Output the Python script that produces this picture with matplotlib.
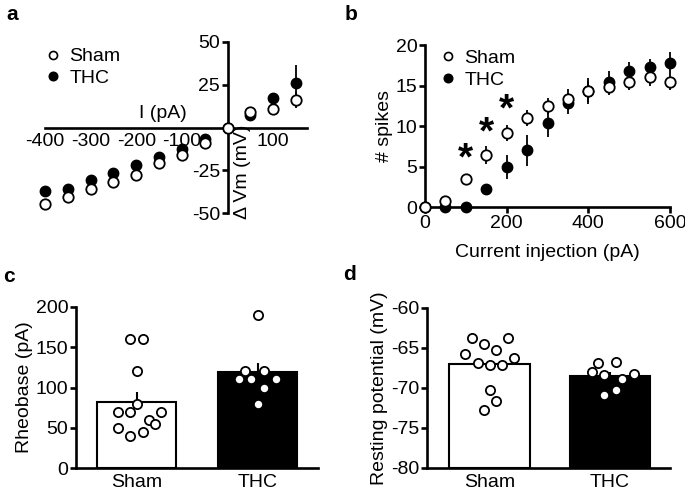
import matplotlib
matplotlib.use("Agg")
import matplotlib.pyplot as plt
from matplotlib.lines import Line2D
import numpy as np

plt.rcParams['font.family'] = ['Liberation Sans', 'DejaVu Sans']
plt.rcParams['font.size'] = 14
plt.rcParams['axes.unicode_minus'] = False

# ---- Panel a: I-V data ----
iv_current = [-400, -350, -300, -250, -200, -150, -100, -50, 0, 50, 100, 150]
iv_sham = [-44.3, -40.4, -36.0, -32.0, -27.6, -20.9, -16.1, -9.0, 0.0, 9.2, 10.5, 15.9]
iv_sham_err = [1.5, 1.5, 1.5, 1.5, 1.5, 1.5, 1.5, 1.0, 0.0, 1.5, 2.0, 4.7]
iv_thc = [-37.2, -35.6, -30.7, -26.4, -21.8, -17.4, -12.5, -6.7, 0.0, 7.3, 17.4, 26.0]
iv_thc_err = [1.5, 2.5, 1.5, 1.5, 1.5, 1.5, 1.5, 1.0, 0.0, 1.5, 2.0, 10.6]
iv_xticks = [-400, -300, -200, -100, 100]
iv_yticks = [-50, -25, 25, 50]

# ---- Panel b: spikes ----
inj = [0, 50, 100, 150, 200, 250, 300, 350, 400, 450, 500, 550, 600]
spk_sham = [0.0, 0.8, 3.5, 6.4, 9.2, 11.0, 12.5, 13.3, 14.3, 14.8, 15.5, 16.0, 15.5]
spk_sham_err = [0.0, 0.3, 0.6, 1.1, 1.0, 1.0, 1.0, 1.3, 1.6, 1.0, 1.0, 1.0, 1.1]
spk_thc = [0.0, 0.0, 0.0, 2.2, 5.0, 7.0, 10.4, 12.8, 14.3, 15.5, 16.8, 17.3, 17.8]
spk_thc_err = [0.0, 0.0, 0.0, 0.5, 1.5, 1.9, 1.7, 1.3, 1.3, 1.3, 1.1, 1.0, 1.3]
star_x = [100, 150, 200]
star_y = [5.9, 9.1, 11.9]

# ---- Panel c: rheobase ----
groups = ['Sham', 'THC']
rheo_mean = [81.8, 119.0]
rheo_sem = [13.2, 11.0]
rheo_sham = [160, 160, 120, 80, 70, 70, 70, 60, 55, 50, 45, 40]
rheo_sham_jit = [-0.05, 0.05, 0.0, 0.0, -0.15, -0.05, 0.2, 0.1, 0.15, -0.15, 0.05, -0.05]
rheo_thc = [190, 120, 120, 110, 110, 110, 100, 80]
rheo_thc_jit = [0.0, -0.1, 0.05, -0.15, -0.05, 0.15, 0.05, 0.0]

# ---- Panel d: resting potential ----
rmp_mean = [-67.05, -68.5]
rmp_sem = [0.6, 0.5]
rmp_sham = [-63.7, -63.7, -64.5, -65.25, -65.7, -66.3, -66.9, -67.1, -67.1, -70.3, -71.6, -72.7]
rmp_sham_jit = [-0.15, 0.15, -0.05, 0.05, -0.2, 0.2, -0.1, 0.0, 0.1, 0.0, 0.05, -0.05]
rmp_thc = [-66.9, -66.7, -67.95, -68.4, -68.2, -68.9, -70.25, -70.9]
rmp_thc_jit = [-0.1, 0.05, -0.15, -0.05, 0.2, 0.1, 0.05, -0.05]

W, H = 685, 492
fig = plt.figure(figsize=(W / 100, H / 100), dpi=100)

def box(l, r, t, b):
    return [l / W, 1 - b / H, (r - l) / W, (b - t) / H]

FS = 14
SPW = 1.9
MS = 7.5
def style(ax):
    for s in ['top', 'right']:
        ax.spines[s].set_visible(False)
    for s in ['left', 'bottom']:
        ax.spines[s].set_linewidth(SPW)
    ax.tick_params(width=SPW, length=4, labelsize=FS, pad=1.5)

def leg_handles():
    hs = Line2D([], [], ls='none', marker='o', mfc='white', mec='black', mew=1.2, ms=5.8)
    ht = Line2D([], [], ls='none', marker='o', mfc='black', mec='black', ms=6.2)
    return [hs, ht], ['Sham', 'THC']

# ---------- a ----------
axa = fig.add_axes(box(45, 307, 41.7, 213.3))
style(axa)
axa.set_xlim(-400, 174)
axa.set_ylim(-50, 50)
axa.spines['left'].set_position(('data', 0))
axa.spines['bottom'].set_position(('data', 0))
axa.set_xticks(iv_xticks)
axa.set_xticklabels([str(v) for v in iv_xticks])
axa.set_yticks(iv_yticks)
axa.set_yticklabels([str(v) for v in iv_yticks])
axa.tick_params(axis='x', length=0, pad=4)
axa.errorbar(iv_current, iv_thc, yerr=iv_thc_err, fmt='o', color='black', mfc='black',
             mec='black', ms=MS, elinewidth=1.3, capsize=0, clip_on=False, zorder=3)
axa.errorbar(iv_current, iv_sham, yerr=iv_sham_err, fmt='o', color='black', mfc='white',
             mec='black', mew=1.3, ms=MS, elinewidth=1.3, capsize=0, clip_on=False, zorder=4)
hh, ll = leg_handles()
axa.legend(hh, ll, loc='upper left', bbox_to_anchor=(-0.03, 1.01),
           frameon=False, handletextpad=0.45, borderaxespad=0, labelspacing=0.2,
           handlelength=0.8, fontsize=FS)
fig.text(163 / W, 1 - 113 / H, 'I (pA)', ha='center', va='center', fontsize=FS)
fig.text(243 / W, 1 - 172 / H, '\u0394 Vm (mV)', ha='center', va='center', rotation=90, fontsize=FS)
fig.text(6 / W, 1 - 14 / H, 'a', ha='left', va='center', fontsize=15, fontweight='bold')

# ---------- b ----------
axb = fig.add_axes(box(425, 670, 45, 207.3))
style(axb)
axb.set_xlim(0, 600)
axb.set_ylim(0, 20)
axb.set_xticks([0, 200, 400, 600])
axb.set_yticks([0, 5, 10, 15, 20])
axb.errorbar(inj, spk_thc, yerr=spk_thc_err, fmt='o', color='black', mfc='black',
             mec='black', ms=MS, elinewidth=1.3, capsize=0, clip_on=False, zorder=3)
axb.errorbar(inj, spk_sham, yerr=spk_sham_err, fmt='o', color='black', mfc='white',
             mec='black', mew=1.3, ms=MS, elinewidth=1.3, capsize=0, clip_on=False, zorder=4)
for sx, sy in zip(star_x, star_y):
    axb.text(sx, sy, '*', ha='center', va='center', fontsize=28, fontweight='bold')
hh, ll = leg_handles()
axb.legend(hh, ll, loc='upper left', bbox_to_anchor=(0.03, 1.02),
           frameon=False, handletextpad=0.45, borderaxespad=0, labelspacing=0.2,
           handlelength=0.8, fontsize=FS)
axb.set_ylabel('# spikes', labelpad=2)
axb.set_xlabel('Current injection (pA)', labelpad=9)
fig.text(345 / W, 1 - 14 / H, 'b', ha='left', va='center', fontsize=15, fontweight='bold')

# ---------- c ----------
axc = fig.add_axes(box(76, 318, 306.7, 468.3))
style(axc)
axc.set_xlim(-0.5, 1.5)
axc.set_ylim(0, 200)
axc.set_yticks([0, 50, 100, 150, 200])
xpos = np.arange(len(groups))
axc.bar(xpos, rheo_mean, width=0.66, color=['white', 'black'], edgecolor='black', linewidth=1.5, zorder=2)
axc.errorbar(xpos, rheo_mean, yerr=[[0, 0], rheo_sem], fmt='none', ecolor='black', elinewidth=1.5,
             capsize=0, zorder=3)
axc.scatter(np.array(rheo_sham_jit) + 0, rheo_sham, s=44, facecolor='white', edgecolor='black',
            linewidth=1.3, zorder=4, clip_on=False)
axc.scatter(np.array(rheo_thc_jit) + 1, rheo_thc, s=44, facecolor='white', edgecolor='black',
            linewidth=1.3, zorder=4, clip_on=False)
axc.set_xticks(xpos)
axc.set_xticklabels(groups)
axc.tick_params(axis='x', length=0, pad=4)
axc.set_ylabel('Rheobase (pA)', labelpad=2)
fig.text(3 / W, 1 - 276 / H, 'c', ha='left', va='center', fontsize=15, fontweight='bold')

# ---------- d ----------
axd = fig.add_axes(box(427, 670, 308, 468))
style(axd)
axd.set_xlim(-0.52, 1.5)
axd.set_ylim(-80, -60)
axd.set_yticks([-80, -75, -70, -65, -60])
axd.bar(xpos, [m - (-80) for m in rmp_mean], bottom=-80, width=0.67, color=['white', 'black'],
        edgecolor='black', linewidth=1.5, zorder=2)
axd.errorbar(xpos, rmp_mean, yerr=[[0, 0], rmp_sem], fmt='none', ecolor='black', elinewidth=1.5,
             capsize=0, zorder=3)
axd.scatter(np.array(rmp_sham_jit) + 0, rmp_sham, s=44, facecolor='white', edgecolor='black',
            linewidth=1.3, zorder=4, clip_on=False)
axd.scatter(np.array(rmp_thc_jit) + 1, rmp_thc, s=44, facecolor='white', edgecolor='black',
            linewidth=1.3, zorder=4, clip_on=False)
axd.set_xticks(xpos)
axd.set_xticklabels(groups)
axd.tick_params(axis='x', length=0, pad=4)
axd.set_ylabel('Resting potential (mV)', labelpad=2)
fig.text(343 / W, 1 - 275 / H, 'd', ha='left', va='center', fontsize=15, fontweight='bold')

fig.savefig('out.png', dpi=100)
